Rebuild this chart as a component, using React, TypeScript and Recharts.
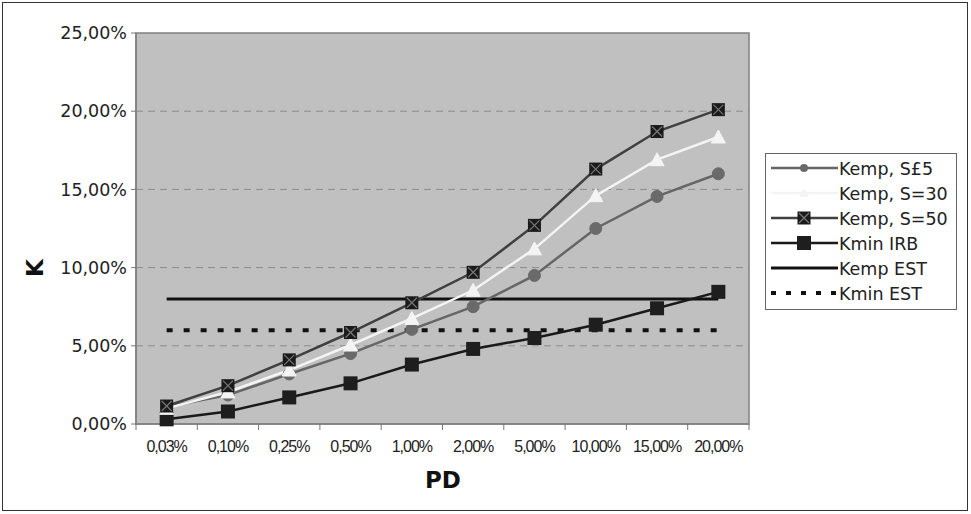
import React from "react";
import {
  LineChart,
  Line,
  XAxis,
  YAxis,
  CartesianGrid,
  ReferenceArea,
} from "recharts";

const pdLabels = [
  "0,03%",
  "0,10%",
  "0,25%",
  "0,50%",
  "1,00%",
  "2,00%",
  "5,00%",
  "10,00%",
  "15,00%",
  "20,00%",
];
const kempS5 = [1.1, 1.85, 3.2, 4.5, 6.05, 7.5, 9.5, 12.5, 14.55, 16.0];
const kempS30 = [1.0, 2.05, 3.45, 5.05, 6.75, 8.55, 11.2, 14.6, 16.9, 18.35];
const kempS50 = [1.15, 2.45, 4.1, 5.85, 7.75, 9.7, 12.7, 16.3, 18.7, 20.1];
const kminIrb = [0.3, 0.8, 1.7, 2.6, 3.8, 4.8, 5.5, 6.35, 7.4, 8.45];
const kempEst = 8;
const kminEst = 6;
const yTicks = [0, 5, 10, 15, 20, 25];

const chartData = pdLabels.map((label, i) => ({
  x: i + 0.5,
  label,
  s5: kempS5[i],
  s30: kempS30[i],
  s50: kempS50[i],
  irb: kminIrb[i],
  est: kempEst,
  minEst: kminEst,
}));

// ticks at category edges (tick marks) and centers (labels), Excel style
const xTicks: number[] = [];
for (let i = 0; i <= 20; i++) xTicks.push(i / 2);

const fmtPct = (v: number) => v.toFixed(2).replace(".", ",") + "%";

const XTick = (props: any) => {
  const { x, y, payload } = props;
  const v = payload.value;
  if (Number.isInteger(v)) {
    return <line x1={x} x2={x} y1={y} y2={y + 6} stroke="#777" strokeWidth={1} />;
  }
  const label = pdLabels[Math.floor(v)];
  return (
    <text
      x={x}
      y={y + 28}
      textAnchor="middle"
      fontFamily="'Liberation Sans', Arial, sans-serif"
      fontSize={16}
      letterSpacing={-1}
      fill="#222"
    >
      {label}
    </text>
  );
};

const CircleDot = (props: any) => {
  const { cx, cy } = props;
  if (cx == null || cy == null) return null;
  return <circle cx={cx} cy={cy} r={6} fill="#6a6a6a" stroke="#6a6a6a" />;
};

const TriangleDot = (props: any) => {
  const { cx, cy } = props;
  if (cx == null || cy == null) return null;
  return (
    <polygon
      points={`${cx},${cy - 7} ${cx - 7},${cy + 6} ${cx + 7},${cy + 6}`}
      fill="#f4f4f4"
      stroke="#f4f4f4"
    />
  );
};

const XSquareDot = (props: any) => {
  const { cx, cy } = props;
  if (cx == null || cy == null) return null;
  return (
    <g>
      <rect x={cx - 6.5} y={cy - 6.5} width={13} height={13} fill="#1a1a1a" />
      <line x1={cx - 5} y1={cy - 5} x2={cx + 5} y2={cy + 5} stroke="#777" strokeWidth={1.2} />
      <line x1={cx - 5} y1={cy + 5} x2={cx + 5} y2={cy - 5} stroke="#777" strokeWidth={1.2} />
    </g>
  );
};

const SquareDot = (props: any) => {
  const { cx, cy } = props;
  if (cx == null || cy == null) return null;
  return <rect x={cx - 7} y={cy - 7} width={14} height={14} fill="#1e1e1e" />;
};

const legendItems = [
  { name: "Kemp, S£5", color: "#666", width: 2.5, marker: "circle" },
  { name: "Kemp, S=30", color: "#f4f4f4", width: 2.5, marker: "triangle" },
  { name: "Kemp, S=50", color: "#404040", width: 2.5, marker: "xsquare" },
  { name: "Kmin IRB", color: "#1a1a1a", width: 2.5, marker: "square" },
  { name: "Kemp EST", color: "#111", width: 3, marker: "none" },
  { name: "Kmin EST", color: "#111", width: 4, marker: "dots" },
];

const LegendBox = () => (
  <div
    style={{
      position: "absolute",
      left: 765,
      top: 153,
      width: 192,
      height: 157,
      border: "1px solid #666",
      background: "#fff",
      boxSizing: "border-box",
    }}
  >
    <svg width={190} height={155} style={{ display: "block" }}>
      {legendItems.map((it, i) => {
        const y = 14 + i * 25;
        const m = 38;
        return (
          <g key={it.name}>
            <line
              x1={5}
              x2={72}
              y1={y}
              y2={y}
              stroke={it.color}
              strokeWidth={it.width}
              strokeDasharray={it.marker === "dots" ? "5 10" : undefined}
            />
            {it.marker === "circle" && <circle cx={m} cy={y} r={4} fill="#6a6a6a" />}
            {it.marker === "triangle" && (
              <polygon points={`${m},${y - 5} ${m - 5},${y + 4} ${m + 5},${y + 4}`} fill="#f4f4f4" />
            )}
            {it.marker === "xsquare" && <XSquareDot cx={m} cy={y} />}
            {it.marker === "square" && <SquareDot cx={m} cy={y} />}
            <text
              x={73}
              y={y + 6.5}
              fontFamily="'DejaVu Sans', Verdana, sans-serif"
              fontSize={17.5}
              fill="#222"
            >
              {it.name}
            </text>
          </g>
        );
      })}
    </svg>
  </div>
);

export default function App() {
  return (
    <div
      style={{
        position: "absolute",
        left: 0,
        top: 0,
        width: 971,
        height: 514,
        background: "#fff",
      }}
    >
      <div
        style={{
          position: "absolute",
          left: 2,
          top: 2,
          width: 966,
          height: 509,
          border: "1px solid #333",
          boxSizing: "border-box",
        }}
      />
      <LineChart
        width={971}
        height={514}
        data={chartData}
        margin={{ top: 33, right: 222, bottom: 60, left: 66 }}
      >
        <CartesianGrid
          vertical={false}
          horizontalValues={[5, 10, 15, 20]}
          stroke="#8c8c8c"
          strokeDasharray="7 5"
          fill="#c0c0c0"
        />
        <ReferenceArea
          x1={0}
          x2={10}
          y1={0}
          y2={25}
          fill="none"
          stroke="#808080"
          strokeWidth={1.5}
          ifOverflow="visible"
        />
        <XAxis
          dataKey="x"
          type="number"
          domain={[0, 10]}
          ticks={xTicks}
          interval={0}
          height={30}
          tickSize={0}
          tickMargin={0}
          tickLine={false}
          axisLine={{ stroke: "#808080", strokeWidth: 1.5 }}
          tick={<XTick />}
        />
        <YAxis
          type="number"
          domain={[0, 25]}
          ticks={yTicks}
          interval={0}
          width={70}
          tickSize={5}
          tickMargin={4}
          tickFormatter={fmtPct}
          axisLine={{ stroke: "#808080", strokeWidth: 1.5 }}
          tickLine={{ stroke: "#777" }}
          tick={{
            fontFamily: "'DejaVu Sans', Verdana, sans-serif",
            fontSize: 17.5,
            fill: "#222",
          }}
        />
        <Line
          dataKey="est"
          stroke="#111"
          strokeWidth={3}
          dot={false}
          isAnimationActive={false}
        />
        <Line
          dataKey="minEst"
          stroke="#111"
          strokeWidth={4}
          strokeDasharray="6 11"
          dot={false}
          isAnimationActive={false}
        />
        <Line
          dataKey="irb"
          stroke="#1a1a1a"
          strokeWidth={2.5}
          dot={<SquareDot />}
          isAnimationActive={false}
        />
        <Line
          dataKey="s5"
          stroke="#666"
          strokeWidth={2.5}
          dot={<CircleDot />}
          isAnimationActive={false}
        />
        <Line
          dataKey="s30"
          stroke="#f4f4f4"
          strokeWidth={2.5}
          dot={<TriangleDot />}
          isAnimationActive={false}
        />
        <Line
          dataKey="s50"
          stroke="#404040"
          strokeWidth={2.5}
          dot={<XSquareDot />}
          isAnimationActive={false}
        />
      </LineChart>
      <LegendBox />
      <div
        style={{
          position: "absolute",
          left: 20,
          top: 253,
          width: 30,
          height: 30,
          display: "flex",
          alignItems: "center",
          justifyContent: "center",
          transform: "rotate(-90deg)",
          fontFamily: "'DejaVu Sans', Verdana, sans-serif",
          fontWeight: "bold",
          fontSize: 23,
          color: "#111",
        }}
      >
        K
      </div>
      <div
        style={{
          position: "absolute",
          left: 393,
          top: 467,
          width: 100,
          textAlign: "center",
          fontFamily: "'DejaVu Sans', Verdana, sans-serif",
          fontWeight: "bold",
          fontSize: 23,
          color: "#111",
        }}
      >
        PD
      </div>
    </div>
  );
}
